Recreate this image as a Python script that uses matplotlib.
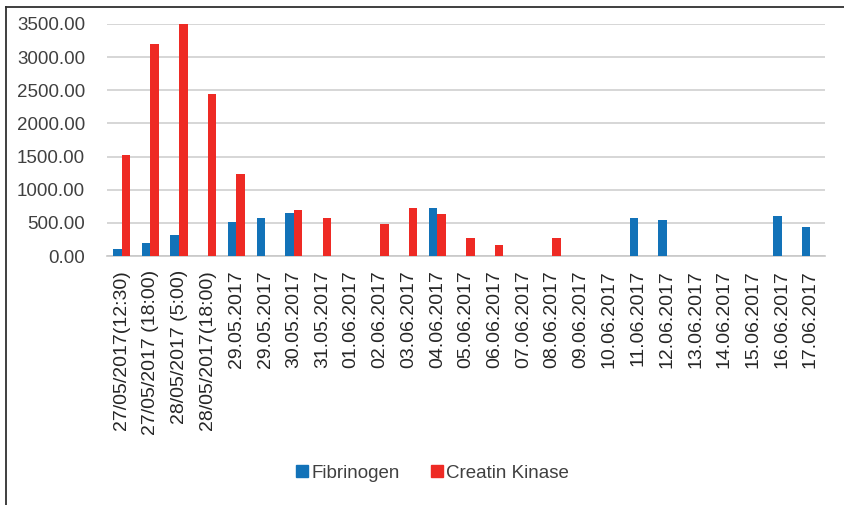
import matplotlib
matplotlib.use("Agg")
import matplotlib.pyplot as plt
from matplotlib.lines import Line2D
import numpy as np

dates = [
    "27/05/2017(12:30)", "27/05/2017 (18:00)", "28/05/2017 (5:00)", "28/05/2017(18:00)",
    "29.05.2017", "29.05.2017", "30.05.2017", "31.05.2017", "01.06.2017", "02.06.2017",
    "03.06.2017", "04.06.2017", "05.06.2017", "06.06.2017", "07.06.2017", "08.06.2017",
    "09.06.2017", "10.06.2017", "11.06.2017", "12.06.2017", "13.06.2017", "14.06.2017",
    "15.06.2017", "16.06.2017", "17.06.2017",
]
fibrinogen = [100, 200, 320, 0, 520, 580, 650, 0, 0, 0,
              0, 720, 0, 0, 0, 0, 0, 0, 570, 540,
              0, 0, 0, 610, 440]
creatin_kinase = [1530, 3200, 3500, 2450, 1230, 0, 700, 580, 0, 490,
                  720, 630, 270, 160, 0, 270, 0, 0, 0, 0,
                  0, 0, 0, 0, 0]
y_ticks = [0, 500, 1000, 1500, 2000, 2500, 3000, 3500]

blue = "#1272b8"
red = "#ee2a24"
font = ["Liberation Sans", "DejaVu Sans"]
plt.rcParams["font.family"] = font

fig = plt.figure(figsize=(8.45, 5.05), dpi=100)
ax = fig.add_axes([0.127, 0.493, 0.849, 0.4595])

x = np.arange(len(dates))
w = 0.3
ax.bar(x - w / 2, fibrinogen, width=w, color=blue, label="Fibrinogen", zorder=3)
ax.bar(x + w / 2, creatin_kinase, width=w, color=red, label="Creatin Kinase", zorder=3)

ax.set_xlim(-0.5, len(dates) - 0.5)
ax.set_ylim(0, 3500)
ax.set_yticks(y_ticks)
ax.set_yticklabels([f"{v:.2f}" for v in y_ticks], fontsize=13.5, color="#404040")
ax.set_xticks(x)
ax.set_xticklabels(dates, rotation=90, fontsize=14, color="#262626")
ax.tick_params(axis="x", length=0, pad=10)
ax.tick_params(axis="y", length=0, pad=16)

ax.grid(axis="y", color="#d0d0d0", linewidth=1.2, zorder=0)
for side in ("top", "right", "left"):
    ax.spines[side].set_visible(False)
ax.spines["bottom"].set_color("#c8c8c8")
ax.spines["bottom"].set_linewidth(1.2)

handles = [
    Line2D([], [], marker="s", linestyle="none", color=blue, markersize=8),
    Line2D([], [], marker="s", linestyle="none", color=red, markersize=8),
]
fig.legend(handles, ["Fibrinogen", "Creatin Kinase"], loc="center",
           bbox_to_anchor=(0.511, 0.063), ncol=2, frameon=False, fontsize=13.5,
           handletextpad=0.1, columnspacing=1.6, handlelength=0.8,
           labelcolor="#404040")

# frame lines along the top and left edges of the figure
fig.add_artist(Line2D([6 / 845, 1.0], [1 - 7 / 505, 1 - 7 / 505],
                      transform=fig.transFigure, color="#303030", linewidth=1.3))
fig.add_artist(Line2D([6 / 845, 6 / 845], [0.0, 1 - 7 / 505],
                      transform=fig.transFigure, color="#303030", linewidth=1.3))

fig.savefig("out.png", dpi=100, facecolor="white")
